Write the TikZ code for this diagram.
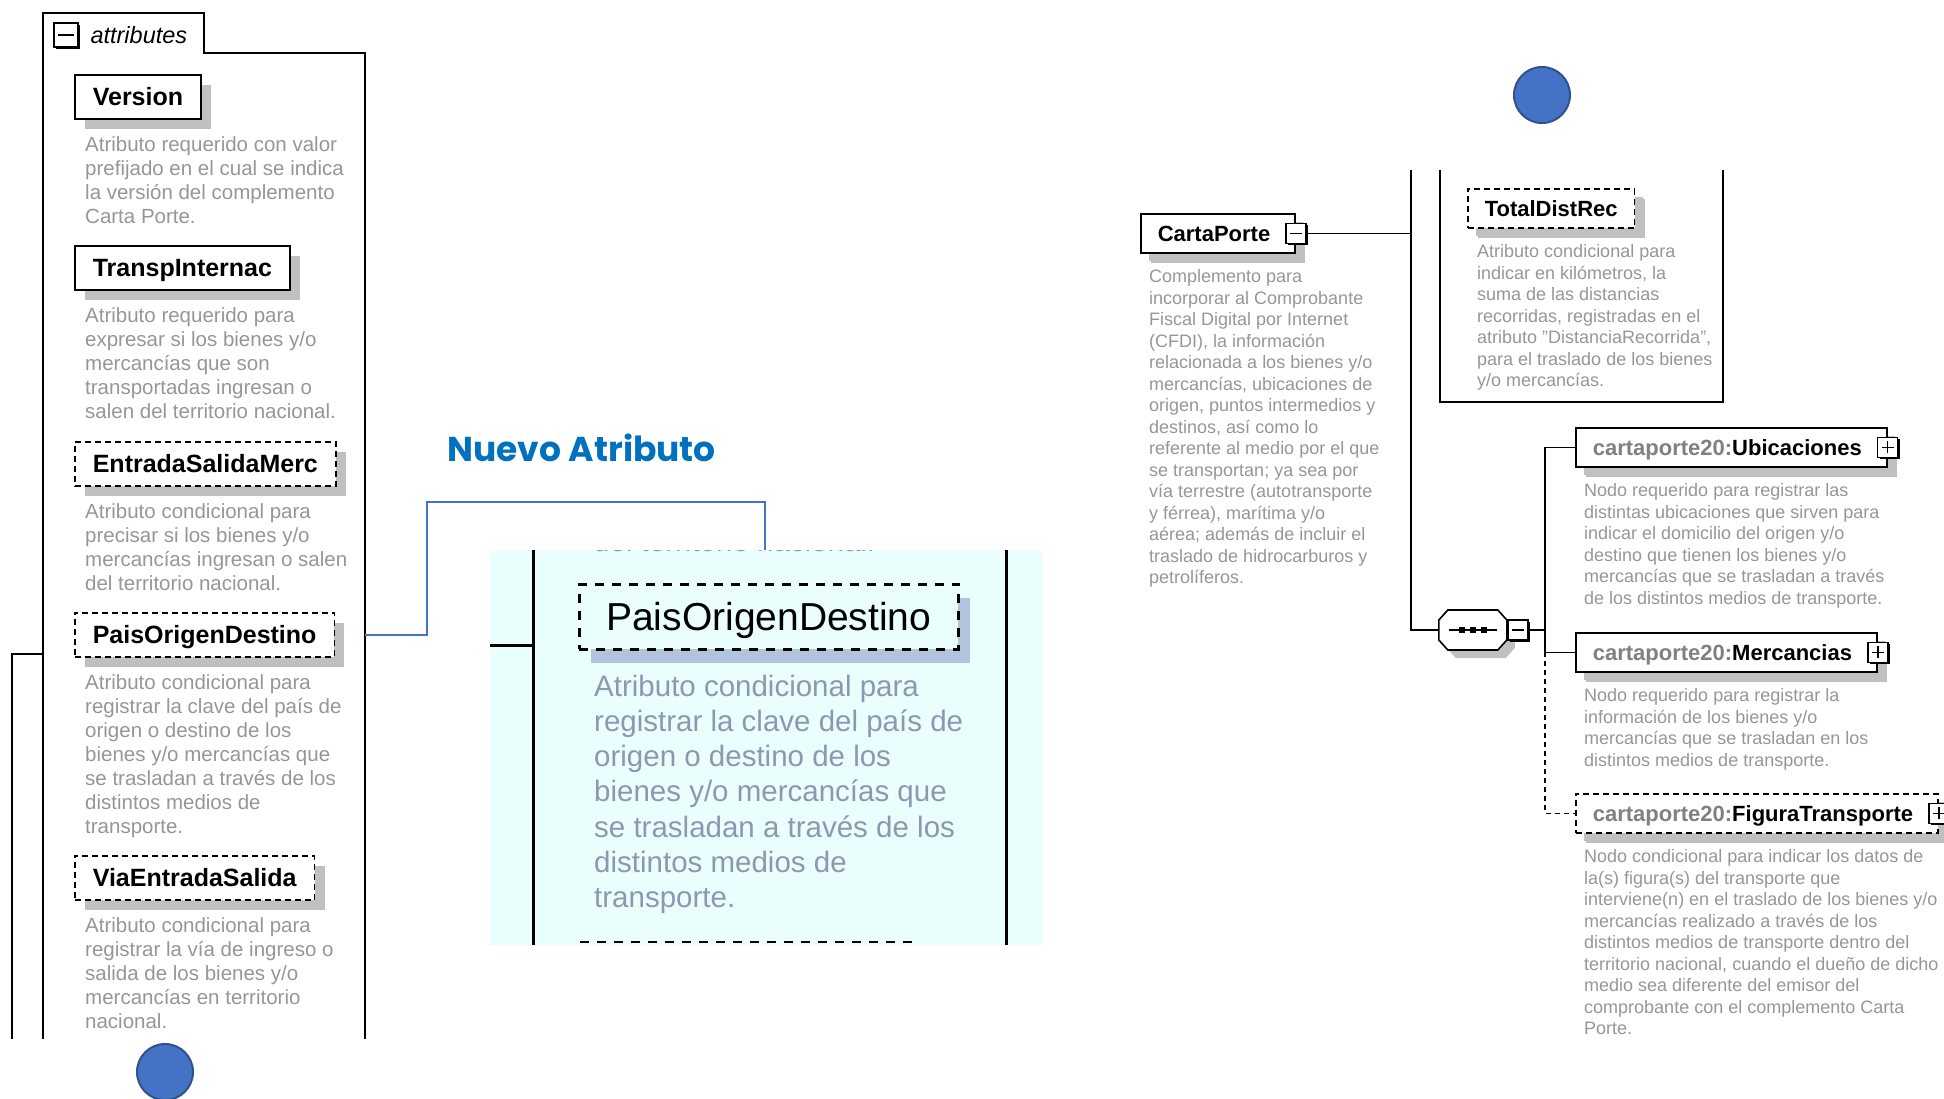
\documentclass[tikz,border=0pt]{standalone}
\usepackage{fontspec}
\setmainfont{Liberation Sans}
\newfontfamily\headfont{Poppins}
\usetikzlibrary{positioning,shadows}

\definecolor{boxshadow}{RGB}{192,192,192}
\definecolor{lensshadow}{RGB}{176,196,222}
\definecolor{doctext}{RGB}{150,150,150}
\definecolor{lenstext}{RGB}{140,152,178}
\definecolor{nsgray}{RGB}{128,128,128}
\definecolor{lensbg}{RGB}{234,254,254}
\definecolor{markfill}{RGB}{68,114,196}
\definecolor{markline}{RGB}{47,82,143}
\definecolor{newblue}{RGB}{0,112,192}

\newcommand\cpname[1]{{\color{nsgray}cartaporte20:}#1\kern8pt}
\newcommand\seqoutline{++(0,-10) -- ++(9,-10) -- ++(50,0) -- ++(9,10) -- ++(0,20) -- ++(-9,10) -- ++(-50,0) -- ++(-9,-10) -- cycle}

\tikzset{
  attr/.style={draw=black, line width=1.6pt, fill=white, anchor=north west,
    font=\fontsize{25}{25}\selectfont\bfseries, inner xsep=18pt, inner ysep=0pt,
    minimum height=44pt, text height=18pt, text depth=0pt,
    drop shadow={shadow xshift=10pt, shadow yshift=-10pt, fill=boxshadow, opacity=1}},
  elem/.style={attr, font=\fontsize{22}{22}\selectfont\bfseries, inner xsep=17pt,
    minimum height=39pt, text height=16pt,
    drop shadow={shadow xshift=8pt, shadow yshift=-8pt, fill=boxshadow, opacity=1}},
  opt/.style={dash pattern=on 6pt off 4pt},
  doc/.style={anchor=north west, inner sep=0pt, align=left, text=doctext,
    font=\fontsize{20.5}{24}\selectfont, execute at begin node=\strut},
  rdoc/.style={doc, font=\fontsize{18}{21.5}\selectfont},
  toggle/.style={draw=black, line width=1.3pt, fill=white, minimum size=20pt, inner sep=0pt,
    drop shadow={shadow xshift=2pt, shadow yshift=-2pt, fill=black, opacity=1}},
  minusbox/.style={toggle, path picture={
    \draw[line width=1.3pt] ([xshift=4pt]path picture bounding box.west) -- ([xshift=-4pt]path picture bounding box.east);}},
  plusbox/.style={toggle, path picture={
    \draw[line width=1.3pt] ([xshift=4pt]path picture bounding box.west) -- ([xshift=-4pt]path picture bounding box.east)
      ([yshift=-4pt]path picture bounding box.north) -- ([yshift=4pt]path picture bounding box.south);}},
  wire/.style={draw=black, line width=1.6pt},
  link/.style={draw=markfill, line width=1.5pt},
  marker/.style={circle, fill=markfill, draw=markline, line width=2pt, minimum size=56pt},
  lensattr/.style={draw=black, line width=2.5pt, dash pattern=on 9pt off 8pt, fill=lensbg,
    anchor=north west, font=\fontsize{39}{39}\selectfont, inner xsep=27pt, inner ysep=0pt,
    minimum height=65pt, text height=28pt, text depth=0pt,
    drop shadow={shadow xshift=12pt, shadow yshift=-14pt, fill=lensshadow, opacity=1}},
  lensdoc/.style={doc, text=lenstext, font=\fontsize{29.5}{35.3}\selectfont}
}

\begin{document}
\begin{tikzpicture}[x=1pt, y=-1pt]
  \useasboundingbox (0,0) rectangle (1944,1098);

  % attributes group
  \draw[wire] (43,1039) -- (43,13) -- (204,13) -- (204,53) -- (365,53) -- (365,1039);
  \coordinate (grpR) at (365,53);
  \node[minusbox, minimum size=24pt, line width=1.8pt] (fold) at (66,35) {};
  \node[anchor=base west, font=\fontsize{23.5}{23.5}\selectfont\itshape] (grp) at (87,43) {attributes};
  \coordinate (up) at (12,1039);
  \draw[wire] (up) |- (43,654);

  \node[attr] (ver) at (74,74) {Version};
  \node[doc, below right=17pt and 11pt of ver.south west] (verdoc)
    {Atributo requerido con valor\\prefijado en el cual se indica\\la versión del complemento\\Carta Porte.};
  \node[attr] (tin) at (74,245) {TranspInternac};
  \node[doc, below right=17pt and 11pt of tin.south west] (tindoc)
    {Atributo requerido para\\expresar si los bienes y/o\\mercancías que son\\transportadas ingresan o\\salen del territorio nacional.};
  \node[attr, opt] (esm) at (74,441) {EntradaSalidaMerc};
  \node[doc, below right=17pt and 11pt of esm.south west] (esmdoc)
    {Atributo condicional para\\precisar si los bienes y/o\\mercancías ingresan o salen\\del territorio nacional.};
  \node[attr, opt] (pais) at (74,612) {PaisOrigenDestino};
  \node[doc, below right=17pt and 11pt of pais.south west] (paisdoc)
    {Atributo condicional para\\registrar la clave del país de\\origen o destino de los\\bienes y/o mercancías que\\se trasladan a través de los\\distintos medios de\\transporte.};
  \node[attr, opt] (via) at (74,855) {ViaEntradaSalida};
  \node[doc, below right=17pt and 11pt of via.south west] (viadoc)
    {Atributo condicional para\\registrar la vía de ingreso o\\salida de los bienes y/o\\mercancías en territorio\\nacional.};
  \node[marker] (m1) at (165,1072) {};

  % enlarged view
  \node[anchor=base west, font={\headfont\fontsize{34.5}{34.5}\selectfont\bfseries}, text=newblue] (tag)
    at (444,461) {Nuevo Atributo};
  \node[fill=lensbg, anchor=north west, minimum width=552pt, minimum height=395pt, inner sep=0pt] (lens)
    at (490,550) {};
  \begin{scope}
    \clip (lens.north west) rectangle (lens.south east);
    \node[anchor=base west, text=lenstext, font=\fontsize{29.5}{35.3}\selectfont, inner sep=0pt] (cut)
      at (593,551) {del territorio nacional.};
  \end{scope}
  \draw[line width=3pt] (533,550) -- (533,945) (1006,550) -- (1006,945) (490,645) -- (533,645);
  \node[lensattr] (big) at (578,583) {PaisOrigenDestino};
  \node[lensdoc, below right=24pt and 16pt of big.south west] (bigdoc)
    {Atributo condicional para\\registrar la clave del país de\\origen o destino de los\\bienes y/o mercancías que\\se trasladan a través de los\\distintos medios de\\transporte.};
  \draw[line width=2.5pt, dash pattern=on 9pt off 8pt] (580,942) -- (918,942);
  \coordinate (drop) at (765,550);
  \draw[link] (pais.east -| grpR) -| (427,502) -| (drop);

  % CartaPorte tree
  \node[marker] (m2) at (1542,95) {};
  \node[elem] (cp) at (1140,213) {CartaPorte\kern8pt};
  \node[minusbox] (cpm) at (cp.east) {};
  \node[rdoc, below right=16pt and 9pt of cp.south west] (cpdoc)
    {Complemento para\\incorporar al Comprobante\\Fiscal Digital por Internet\\(CFDI), la información\\relacionada a los bienes y/o\\mercancías, ubicaciones de\\origen, puntos intermedios y\\destinos, así como lo\\referente al medio por el que\\se transportan; ya sea por\\vía terrestre (autotransporte\\y férrea), marítima y/o\\aérea; además de incluir el\\traslado de hidrocarburos y\\petrolíferos.};
  \coordinate (trunk) at (1411,170);
  \draw[wire] (cpm.east) -- (cpm.east -| trunk);

  \draw[wire] (1440,170) |- (1723,402) -- (1723,170);
  \node[elem, opt] (tdr) at (1467,188) {TotalDistRec};
  \node[rdoc, below right=16pt and 10pt of tdr.south west] (tdrdoc)
    {Atributo condicional para\\indicar en kilómetros, la\\suma de las distancias\\recorridas, registradas en el\\atributo "DistanciaRecorrida",\\para el traslado de los bienes\\y/o mercancías.};

  \node[minimum width=68pt, minimum height=40pt, inner sep=0pt] (seq) at (1473,630) {};
  \fill[boxshadow] ([shift={(8pt,-8pt)}]seq.west) \seqoutline;
  \draw[wire, fill=white] (seq.west) \seqoutline;
  \draw[line width=1.3pt] ([xshift=10pt]seq.west) -- ([xshift=-10pt]seq.east);
  \foreach \dx in {-11,0,11}
    \fill ([xshift=\dx pt]seq.center) +(-3,-3) rectangle +(3,3);
  \node[minusbox, anchor=west] (seqm) at (seq.east) {};
  \draw[wire] (trunk) |- (seq.west);

  \coordinate (fork) at (1545,630);
  \node[elem] (ubi) at (1575,427) {\cpname{Ubicaciones}};
  \node[plusbox] (ubip) at (ubi.east) {};
  \node[rdoc, below right=16pt and 9pt of ubi.south west] (ubidoc)
    {Nodo requerido para registrar las\\distintas ubicaciones que sirven para\\indicar el domicilio del origen y/o\\destino que tienen los bienes y/o\\mercancías que se trasladan a través\\de los distintos medios de transporte.};
  \node[elem] (mer) at (1575,632) {\cpname{Mercancias}};
  \node[plusbox] (merp) at (mer.east) {};
  \node[rdoc, below right=16pt and 9pt of mer.south west] (merdoc)
    {Nodo requerido para registrar la\\información de los bienes y/o\\mercancías que se trasladan en los\\distintos medios de transporte.};
  \node[elem, opt] (fig) at (1575,793) {\cpname{FiguraTransporte}};
  \node[plusbox] (figp) at (fig.east) {};
  \node[rdoc, below right=16pt and 9pt of fig.south west] (figdoc)
    {Nodo condicional para indicar los datos de\\la(s) figura(s) del transporte que\\interviene(n) en el traslado de los bienes y/o\\mercancías realizado a través de los\\distintos medios de transporte dentro del\\territorio nacional, cuando el dueño de dicho\\medio sea diferente del emisor del\\comprobante con el complemento Carta\\Porte.};

  \draw[wire] (seqm.east) -- (fork);
  \draw[wire] (ubi.west) -| (fork) |- (mer.west);
  \draw[wire, dash pattern=on 5pt off 4pt] (fork |- mer.west) |- (fig.west);
\end{tikzpicture}
\end{document}
